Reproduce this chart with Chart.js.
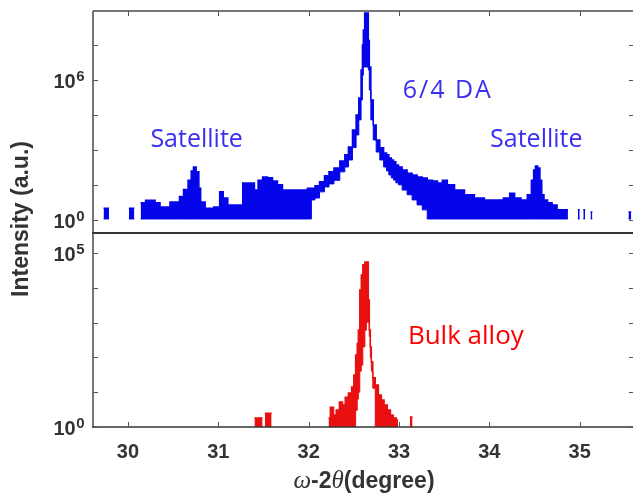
<!DOCTYPE html>
<html lang="en">
<head>
<meta charset="UTF-8">
<title>XRD omega-2theta</title>
<script src="https://cdn.jsdelivr.net/npm/chart.js@4.4.0/dist/chart.umd.min.js"></script>
<style>
  body { margin: 0; background: #fff; }
  #wrap { position: relative; width: 633px; height: 498px; }
  #wrap canvas { position: absolute; left: 0; top: 0; }
</style>
</head>
<body>
<div id="wrap">
  <canvas id="topChart" width="633" height="498"></canvas>
  <canvas id="bottomChart" width="633" height="498"></canvas>
</div>
<script>
// 6/4 DA film: angle, upper and lower edge of the noisy trace (counts)
var topX = [29.73, 29.79, 29.80, 30.01, 30.07, 30.08, 30.14, 30.25, 30.35, 30.36, 30.46, 30.47, 30.55, 30.59,
  30.64, 30.69, 30.71, 30.74, 30.77, 30.80, 30.81, 30.90, 31.00, 31.03, 31.08, 31.13, 31.25, 31.29, 31.38,
  31.42, 31.46, 31.52, 31.57, 31.63, 31.68, 31.74, 31.96, 32.01, 32.05, 32.09, 32.15, 32.20, 32.25, 32.31,
  32.38, 32.42, 32.46, 32.51, 32.54, 32.57, 32.59, 32.60, 32.61, 32.63, 32.655, 32.666, 32.677, 32.70,
  32.73, 32.765, 32.81, 32.85, 32.875, 32.90, 32.93, 32.95, 32.98, 33.01, 33.06, 33.12, 33.17, 33.23,
  33.285, 33.34, 33.40, 33.45, 33.51, 33.56, 33.67, 33.78, 33.89, 34.00, 34.11, 34.20,
  34.25, 34.31, 34.39, 34.45, 34.48, 34.50, 34.52, 34.55, 34.57, 34.59, 34.62, 34.67, 34.72, 34.78, 34.87,
  34.88, 34.98, 35.00, 35.01, 35.04, 35.06, 35.07, 35.12, 35.14, 35.15, 35.54, 35.57];
var topUpper = [3.2, 3.2, null, 3.2, 3.2, null, 5.4, 7, 5.4, 3.6, 3.6, 5.9, 5.9, 10,
  20, 50, 126, 186, 115, 23, 5.9, 3.2, 3.6, 16, 8.7, 4.4, 4.4, 38, 38,
  19, 50, 69, 65, 47, 32, 19, 19, 23, 23, 29, 43, 79, 115, 170,
  339, 617, 1350, 7240, 31600, 170000, 2700000, 31600000, 138000000, 740000000, 740000000, 50000000, 3600000, 138000,
  11700, 2690, 1230, 741, 617, 457, 372, 309, 229, 186, 138, 100, 85, 69,
  63, 50, 47, 38, 50, 32, 19, 12, 8.7, 7.2, 7.2, 8.7,
  14, 8.7, 7.2, 12, 50, 138, 204, 170, 50, 12, 7.2, 5.4, 4.4, 2.7, 2.7,
  null, 2.7, 2.7, null, 2.7, 2.7, null, 2.2, 2.2, null, 2.2, 2.2];
var topLower = [1.1, 1.1, null, 1.1, 1.1, null, 1.1, 1.1, 1.1, 1.1, 1.1, 1.1, 1.1, 1.1,
  1.1, 1.1, 1.1, 1.1, 1.1, 1.1, 1.1, 1.1, 1.1, 1.1, 1.1, 1.1, 1.1, 1.1, 1.1,
  1.1, 1.1, 1.1, 1.1, 1.1, 1.1, 1.1, 1.1, 1.1, 7.2, 8.7, 16, 26, 35, 50,
  115, 186, 372, 1260, 4370, 19500, 138000, 1580000, 3600000, 3600000, 3600000, 2700000, 370000, 19500,
  2690, 813, 372, 186, 126, 85, 63, 51, 39, 32, 19, 12, 7.2, 4.4,
  2.7, 1.1, 1.1, 1.1, 1.1, 1.1, 1.1, 1.1, 1.1, 1.1, 1.1, 1.1,
  1.1, 1.1, 1.1, 1.1, 1.1, 1.1, 1.1, 1.1, 1.1, 1.1, 1.1, 1.1, 1.1, 1.1, 1.1,
  null, 1.1, 1.1, null, 1.1, 1.1, null, 1.1, 1.1, null, 1.1, 1.1];

// bulk alloy
var botX = [31.40, 31.49, 31.50, 31.515, 31.59, 31.60, 32.22, 32.26, 32.29, 32.32, 32.36, 32.39, 32.42, 32.46,
  32.49, 32.51, 32.53, 32.545, 32.555, 32.577, 32.588, 32.611, 32.633, 32.644, 32.655, 32.666, 32.677, 32.688,
  32.70, 32.72, 32.754, 32.79, 32.82, 32.85, 32.89, 32.92, 32.95, 32.99, 33.00, 33.12, 33.15];
var botUpper = [1.8, 1.8, null, 2.5, 2.5, null, 1.8, 3.7, 2.2, 3.1, 5.2, 4.3, 7.2, 9.5,
  14, 31, 117, 250, 617, 8710, 23400, 45700, 55000, 55000, 55000, 4470, 617, 200,
  74, 26, 16, 8.3, 6, 4.3, 3.1, 2.2, 1.8, 1.6, null, 1.95, 1.95];
var botLower = [1, 1, null, 1, 1, null, 1, 1, 1, 1, 1, 1, 1, 1,
  1, 1, 3, 6.3, 10, 40, 60, 200, 600, 1000, 1000, 1000, 400, 100,
  40, 13, 1, 1, 1, 1, 1, 1, 1, 1, null, 1, 1];

var xTicks = [30, 31, 32, 33, 34, 35];
var topYTicks = [1, 31.6, 1000, 31600, 1e6, 3.16e7];
var topYExp = ['0', '', '', '', '6', ''];
var botYTicks = [1, 10, 100, 1000, 1e4, 1e5];
var botYExp = ['0', '', '', '', '', '5'];

var sans = '"Liberation Sans", Arial, sans-serif';
var noteFont = '"Open Sans", "Noto Sans", sans-serif';

function pairs(xs, ys) {
  return xs.map(function (x, i) { return { x: x, y: ys[i] }; });
}

var framePlugin = {
  id: 'frame',
  afterDraw: function (chart, args, o) {
    var ctx = chart.ctx, a = chart.chartArea;
    var xs = chart.scales.x, ys = chart.scales.y;
    ctx.save();
    // borders
    ctx.strokeStyle = '#4a4a4a';
    ctx.lineWidth = 1.5;
    ctx.beginPath();
    ctx.moveTo(a.left, a.top); ctx.lineTo(a.left, a.bottom);
    if (o.topBorder) { ctx.moveTo(a.left, a.top); ctx.lineTo(a.right, a.top); }
    ctx.stroke();
    ctx.lineWidth = o.bottomWidth;
    ctx.strokeStyle = '#333';
    ctx.beginPath();
    ctx.moveTo(a.left - 1, a.bottom); ctx.lineTo(a.right, a.bottom);
    ctx.stroke();
    // inward tick marks
    ctx.lineWidth = 1;
    ctx.strokeStyle = '#555';
    ctx.beginPath();
    xTicks.forEach(function (v) {
      var px = Math.round(xs.getPixelForValue(v)) + 0.5;
      if (o.xTicksTop) { ctx.moveTo(px, a.top); ctx.lineTo(px, a.top + 5); }
      else { ctx.moveTo(px, a.bottom); ctx.lineTo(px, a.bottom - 5); }
    });
    o.yTicks.forEach(function (v) {
      var py = Math.round(ys.getPixelForValue(v)) + 0.5;
      ctx.moveTo(a.left, py); ctx.lineTo(a.left + 5, py);
      ctx.moveTo(a.right, py); ctx.lineTo(a.right - 4, py);
    });
    ctx.stroke();
    // y tick labels 10^n
    ctx.fillStyle = '#333';
    ctx.textBaseline = 'alphabetic';
    o.yTicks.forEach(function (v, i) {
      var e = o.yExp[i];
      if (!e) return;
      var py = ys.getPixelForValue(v);
      ctx.font = 'bold 15px ' + sans;
      var we = ctx.measureText(e).width;
      ctx.font = 'bold 20px ' + sans;
      var wb = ctx.measureText('10').width;
      var x0 = 84 - we - wb;
      ctx.textAlign = 'left';
      ctx.fillText('10', x0, py + 8);
      ctx.font = 'bold 15px ' + sans;
      ctx.fillText(e, x0 + wb + 0.5, py + 1);
    });
    // annotations placed in data coordinates
    ctx.textAlign = 'center';
    ctx.textBaseline = 'middle';
    o.notes.forEach(function (n) {
      ctx.font = n.size + 'px ' + noteFont;
      ctx.fillStyle = n.color;
      ctx.letterSpacing = (n.spacing || 0) + 'px';
      ctx.fillText(n.text, xs.getPixelForValue(n.x), ys.getPixelForValue(n.y));
    });
    ctx.letterSpacing = '0px';
    if (o.titles) {
      // y title centred on both panels
      ctx.fillStyle = '#333';
      ctx.font = 'bold 23px ' + sans;
      ctx.save();
      ctx.translate(22, 219);
      ctx.rotate(-Math.PI / 2);
      ctx.fillText('Intensity (a.u.)', 0, 0);
      ctx.restore();
      // x title with italic greek letters
      var parts = [
        ['\u03c9', 'italic 25px "Liberation Serif", "DejaVu Serif", serif'],
        ['-2', 'bold 23px ' + sans],
        ['\u03b8', 'italic 25px "Liberation Serif", "DejaVu Serif", serif'],
        ['(degree)', 'bold 23px ' + sans]
      ];
      var total = 0;
      parts.forEach(function (p) { ctx.font = p[1]; p.push(ctx.measureText(p[0]).width); total += p[2]; });
      var cx = (a.left + a.right) / 2 - total / 2 + 1;
      ctx.textAlign = 'left';
      ctx.textBaseline = 'alphabetic';
      parts.forEach(function (p) { ctx.font = p[1]; ctx.fillText(p[0], cx, 488); cx += p[2]; });
    }
    ctx.restore();
  }
};

function makePanel(id, xs, up, lo, color, yMin, yMax, pad, frame, showX) {
  return new Chart(document.getElementById(id), {
    type: 'line',
    data: {
      datasets: [{
        data: pairs(xs, lo),
        borderColor: color, borderWidth: 1, pointRadius: 0, stepped: 'middle', fill: false
      }, {
        data: pairs(xs, up),
        borderColor: color, borderWidth: 1.5, pointRadius: 0, stepped: 'middle',
        fill: '-1', backgroundColor: color
      }]
    },
    options: {
      responsive: false,
      animation: false,
      layout: { padding: pad },
      plugins: { legend: { display: false }, tooltip: { enabled: false }, frame: frame },
      scales: {
        x: {
          type: 'linear', min: 29.613, max: 35.59, display: showX,
          grid: { display: false, drawTicks: false }, border: { display: false },
          afterBuildTicks: function (s) { s.ticks = xTicks.map(function (v) { return { value: v }; }); },
          afterFit: function (s) { if (showX) s.height = 71; },
          ticks: { autoSkip: false, maxRotation: 0, color: '#333', padding: 13,
            font: { family: sans, weight: 'bold', size: 20 } }
        },
        y: { type: 'logarithmic', min: yMin, max: yMax, display: false }
      }
    },
    plugins: [framePlugin]
  });
}

makePanel('topChart', topX, topUpper, topLower, '#0505ea', 0.275, 9.1e8,
  { left: 93, top: 11, right: 0, bottom: 265 },
  { topBorder: true, bottomWidth: 2, xTicksTop: true, yTicks: topYTicks, yExp: topYExp,
    notes: [
      { text: 'Satellite', x: 30.76, y: 2700, size: 25, color: '#3a2ef0' },
      { text: '6/4 DA', x: 33.54, y: 340000, size: 25, color: '#3a2ef0', spacing: 2 },
      { text: 'Satellite', x: 34.52, y: 2700, size: 25, color: '#3a2ef0' }
    ] }, false);

makePanel('bottomChart', botX, botUpper, botLower, '#e81010', 1, 3.76e5,
  { left: 93, top: 233, right: 0, bottom: 0 },
  { topBorder: false, bottomWidth: 1.5, xTicksTop: false, yTicks: botYTicks, yExp: botYExp,
    notes: [
      { text: 'Bulk alloy', x: 33.74, y: 390, size: 26, color: '#ff0000' }
    ], titles: true }, true);
</script>
</body>
</html>
